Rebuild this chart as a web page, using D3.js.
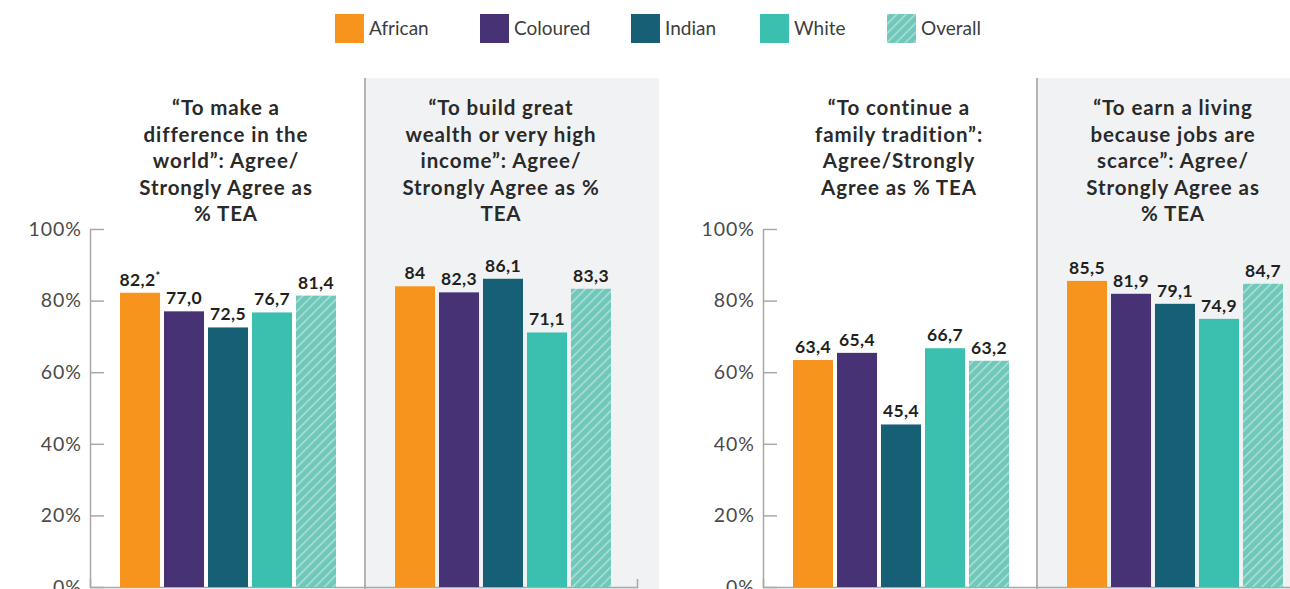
<!DOCTYPE html>
<html>
<head>
<meta charset="utf-8">
<script src="https://cdn.jsdelivr.net/npm/d3@7"></script>
<style>
  html, body { margin: 0; padding: 0; background: #ffffff; }
  svg { display: block; font-family: Lato, "Open Sans", sans-serif; }
</style>
</head>
<body>
<svg id="chart" width="1290" height="589"></svg>
<script>
// Ethnic groups shown in every panel
const groups = ["African", "Coloured", "Indian", "White", "Overall"];
const groupColors = ["#f7941d", "#473275", "#165f74", "#3bbfae", "url(#hatch)"];

// Panel titles (one entry per line)
const titles = [
  ["\u201CTo make a", "difference in the", "world\u201D: Agree/", "Strongly Agree as", "% TEA"],
  ["\u201CTo build great", "wealth or very high", "income\u201D: Agree/", "Strongly Agree as %", "TEA"],
  ["\u201CTo continue a", "family tradition\u201D:", "Agree/Strongly", "Agree as % TEA"],
  ["\u201CTo earn a living", "because jobs are", "scarce\u201D: Agree/", "Strongly Agree as", "% TEA"]
];

// Agree / Strongly agree, % of TEA
const makeDifference = [82.2, 77.0, 72.5, 76.7, 81.4];
const buildWealth    = [84, 82.3, 86.1, 71.1, 83.3];
const familyTradition = [63.4, 65.4, 45.4, 66.7, 63.2];
const earnLiving     = [85.5, 81.9, 79.1, 74.9, 84.7];

// Printed value labels
const makeDifferenceLabels = ["82,2", "77,0", "72,5", "76,7", "81,4"];
const buildWealthLabels    = ["84", "82,3", "86,1", "71,1", "83,3"];
const familyTraditionLabels = ["63,4", "65,4", "45,4", "66,7", "63,2"];
const earnLivingLabels     = ["85,5", "81,9", "79,1", "74,9", "84,7"];
const footnoteMark = [["0", "African"]]; // panel index, group carrying an asterisk

const yTicks = [0, 20, 40, 60, 80, 100];

const panels = [
  { values: makeDifference, labels: makeDifferenceLabels },
  { values: buildWealth, labels: buildWealthLabels },
  { values: familyTradition, labels: familyTraditionLabels },
  { values: earnLiving, labels: earnLivingLabels }
];

// ---- layout ----
const svg = d3.select("#chart");
const panelW = 274;
const panelX = [90, 365, 763, 1037];   // left edges of the four panels
const shaded = [false, true, false, true];
const axisX = [90, 763];               // the two value axes

const y = d3.scaleLinear().domain([0, 100]).range([587, 229]);

// Hatched fill for the "Overall" series
const defs = svg.append("defs");
const pat = defs.append("pattern")
  .attr("id", "hatch")
  .attr("patternUnits", "userSpaceOnUse")
  .attr("width", 6.5).attr("height", 6.5)
  .attr("patternTransform", "rotate(45)");
pat.append("rect").attr("width", 6.5).attr("height", 6.5).attr("fill", "#6fc8b9");
pat.append("line").attr("x1", 0.8).attr("y1", 0).attr("x2", 0.8).attr("y2", 6.5)
  .attr("stroke", "#abdfd6").attr("stroke-width", 1.6);

// Shaded backgrounds
panelX.forEach((px, i) => {
  if (!shaded[i]) return;
  svg.append("rect")
    .attr("x", px).attr("y", 78)
    .attr("width", panelW + 20).attr("height", 520)
    .attr("fill", "#f1f2f4");
  svg.append("line")
    .attr("x1", px).attr("x2", px).attr("y1", 78).attr("y2", 589)
    .attr("stroke", "#b3b3b3").attr("stroke-width", 2);
});

// Value axes
axisX.forEach((ax, k) => {
  const g = svg.append("g").attr("transform", `translate(${ax},0)`)
    .call(d3.axisLeft(y).tickValues(yTicks).tickFormat(d => d + "%")
      .tickSizeInner(-14).tickSizeOuter(0).tickPadding(8));
  g.select(".domain").attr("stroke", "#a9a9a9").attr("stroke-width", 1.5);
  g.selectAll(".tick line").attr("stroke", "#a9a9a9").attr("stroke-width", 1.5);
  g.selectAll(".tick text")
    .attr("font-size", 19.5).attr("fill", "#4a4a4a")
    .attr("letter-spacing", 1)
    .attr("font-family", "Lato, sans-serif");

  // baseline across both panels of this chart
  const bx = d3.scaleLinear().domain([0, 1]).range([0, panelW * 2 - 1]);
  const gb = svg.append("g").attr("transform", `translate(${ax},${y(0)})`)
    .call(d3.axisBottom(bx).tickValues([]).tickSizeOuter(-8));
  gb.select(".domain").attr("stroke", "#a9a9a9").attr("stroke-width", 1.5).attr("fill", "none");
});

// Bars, value labels and titles
panels.forEach((p, i) => {
  const px = panelX[i];
  const x = d3.scaleBand().domain(groups)
    .range([px + 30, px + 246]).paddingInner(0.09).paddingOuter(0);

  const g = svg.append("g");
  g.selectAll("rect.bar")
    .data(groups.map((gname, j) => ({ g: gname, v: p.values[j], c: groupColors[j], l: p.labels[j] })))
    .join("rect")
    .attr("class", "bar")
    .attr("x", d => x(d.g))
    .attr("y", d => y(d.v))
    .attr("width", x.bandwidth())
    .attr("height", d => y(0) - y(d.v))
    .attr("fill", d => d.c);

  const lbl = g.selectAll("text.val")
    .data(groups.map((gname, j) => ({ g: gname, v: p.values[j], l: p.labels[j] })))
    .join("text")
    .attr("class", "val")
    .attr("x", d => x(d.g) + x.bandwidth() / 2)
    .attr("y", d => y(d.v) - 7)
    .attr("text-anchor", "middle")
    .attr("font-size", 17.5).attr("font-weight", 700).attr("fill", "#231f20")
    .attr("letter-spacing", 0.4)
    .text(d => d.l);

  footnoteMark.forEach(([pi, gname]) => {
    if (+pi !== i) return;
    lbl.filter(d => d.g === gname)
      .append("tspan").attr("font-size", 11).attr("dy", -6).text("*");
  });

  const cx = px + panelW / 2 - 1;
  const t = svg.append("text")
    .attr("text-anchor", "middle")
    .attr("font-size", 20.5).attr("font-weight", 700).attr("fill", "#2a2a2a")
    .attr("letter-spacing", 0.9);
  titles[i].forEach((line, k) => {
    t.append("tspan").attr("x", cx).attr("y", 115 + k * 26.6).text(line);
  });
});

// Legend
const legendX = [335, 480, 631, 760, 887];
const leg = svg.append("g");
groups.forEach((gname, j) => {
  leg.append("rect")
    .attr("x", legendX[j]).attr("y", 14)
    .attr("width", 29).attr("height", 29)
    .attr("fill", groupColors[j]);
  leg.append("text")
    .attr("x", legendX[j] + 34).attr("y", 35)
    .attr("font-size", 19).attr("fill", "#3d3d3d")
    .text(gname);
});
</script>
</body>
</html>
